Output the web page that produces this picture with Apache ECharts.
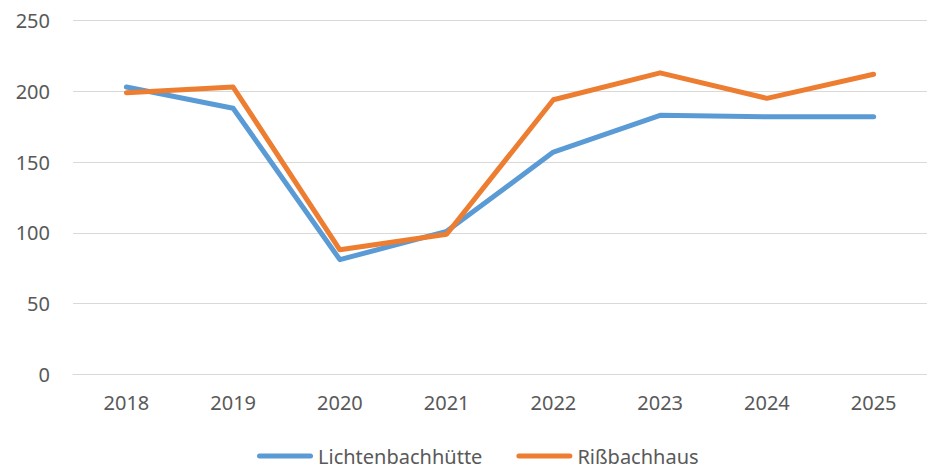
<!DOCTYPE html>
<html>
<head>
<meta charset="utf-8">
<script src="https://cdn.jsdelivr.net/npm/echarts@6/dist/echarts.min.js"></script>
<style>
  html, body { margin: 0; padding: 0; background: #fff; }
  #chart { width: 927px; height: 469px; }
</style>
</head>
<body>
<div id="chart"></div>
<script>
var years = ['2018', '2019', '2020', '2021', '2022', '2023', '2024', '2025'];
var lichtenbach = [203, 188, 81, 101, 157, 183, 182, 182];
var rissbach = [199, 203, 88, 99, 194, 213, 195, 212];

var text = '#595959';
var grid = '#D9D9D9';
var font = 'Noto Sans';
var pill = 'path://M2.5,0 H53.5 A2.5,2.5 0 0 1 53.5,5 H2.5 A2.5,2.5 0 0 1 2.5,0 Z';

var chart = echarts.init(document.getElementById('chart'), null, { renderer: 'svg' });
chart.setOption({
  animation: false,
  grid: { left: 73, right: 0, top: 20.5, bottom: 94.7 },
  legend: {
    data: [
      { name: 'Lichtenbachhütte', icon: pill },
      { name: 'Rißbachhaus', icon: pill }
    ],
    left: 257,
    top: 446,
    padding: 0,
    itemWidth: 56,
    itemHeight: 5,
    itemGap: 34,
    textStyle: { color: text, fontSize: 20, lineHeight: 20, fontFamily: font }
  },
  xAxis: {
    type: 'category',
    data: years,
    boundaryGap: true,
    axisLine: { lineStyle: { color: grid, width: 1 } },
    axisTick: { show: false },
    axisLabel: { color: text, fontSize: 20, fontFamily: font, margin: 18 }
  },
  yAxis: {
    type: 'value',
    min: 0,
    max: 250,
    interval: 50,
    axisLine: { show: false },
    axisTick: { show: false },
    splitLine: { lineStyle: { color: grid, width: 1 } },
    axisLabel: { color: text, fontSize: 20, fontFamily: font, margin: 23 }
  },
  series: [
    {
      name: 'Lichtenbachhütte',
      type: 'line',
      data: lichtenbach,
      symbol: 'none',
      itemStyle: { color: '#5B9BD5' },
      lineStyle: { color: '#5B9BD5', width: 5, cap: 'round', join: 'round' }
    },
    {
      name: 'Rißbachhaus',
      type: 'line',
      data: rissbach,
      symbol: 'none',
      itemStyle: { color: '#ED7D31' },
      lineStyle: { color: '#ED7D31', width: 5, cap: 'round', join: 'round' }
    }
  ]
});
</script>
</body>
</html>
